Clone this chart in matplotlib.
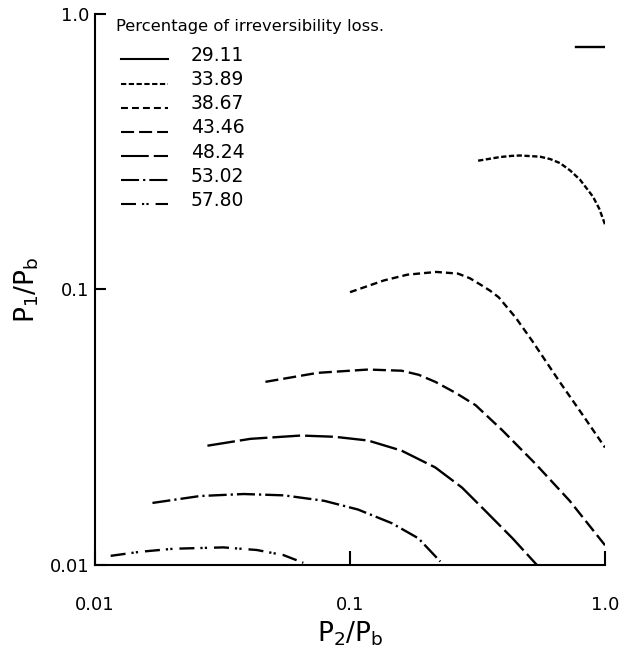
import matplotlib

matplotlib.use("Agg")

import matplotlib.pyplot as plt

plt.rcParams["lines.scale_dashes"] = False

# Contours of irreversibility loss (log-log axes).
loss_labels = ["29.11", "33.89", "38.67", "43.46", "48.24", "53.02", "57.80"]

x_2911 = [0.77, 1.0]
y_2911 = [0.755, 0.755]

x_3389 = [0.318, 0.387, 0.43, 0.464, 0.556, 0.61, 0.667, 0.73, 0.798, 0.897, 0.95, 1.0]
y_3389 = [0.293, 0.302, 0.305, 0.306, 0.303, 0.297, 0.287, 0.270, 0.250, 0.217, 0.196, 0.172]

x_3867 = [0.100, 0.136, 0.168, 0.218, 0.265, 0.295, 0.329, 0.355, 0.383, 0.446, 0.519,
          0.663, 0.820, 1.0]
y_3867 = [0.0977, 0.1078, 0.1131, 0.1157, 0.1141, 0.1098, 0.1033, 0.0988, 0.0936, 0.0791,
          0.0649, 0.0463, 0.0349, 0.0267]

x_4346 = [0.0466, 0.0746, 0.1177, 0.1594, 0.186, 0.216, 0.26, 0.311, 0.396, 0.536, 0.727, 1.0]
y_4346 = [0.0462, 0.0498, 0.0512, 0.0507, 0.0490, 0.0462, 0.0421, 0.0380, 0.0308, 0.0232,
          0.0171, 0.0118]

x_4824 = [0.0276, 0.0407, 0.0641, 0.0869, 0.1177, 0.1594, 0.216, 0.275, 0.340, 0.434, 0.541]
y_4824 = [0.0271, 0.0287, 0.0295, 0.0292, 0.0283, 0.0260, 0.0226, 0.0191, 0.0157,
          0.0125, 0.0100]

x_5302 = [0.0168, 0.0258, 0.0383, 0.0551, 0.0793, 0.1075, 0.1455, 0.1855, 0.226]
y_5302 = [0.0168, 0.0178, 0.0181, 0.0179, 0.0171, 0.0159, 0.0142, 0.0125, 0.0103]

x_5780 = [0.01152, 0.0150, 0.0203, 0.0319, 0.0431, 0.0548, 0.0656]
y_5780 = [0.0108, 0.01117, 0.01146, 0.01159, 0.01134, 0.01087, 0.01019]

# Dash patterns in points (not scaled by line width).
styles = [
    "-",
    (0, (3.8, 1.8)),
    (0, (5, 2.9)),
    (0, (9.4, 3.6)),
    (0, (20, 3.6)),
    (0, (13, 2.9, 1.6, 2.9)),
    (0, (10.8, 4.3, 1.6, 1.6, 1.6, 5)),
]

series = [
    (x_2911, y_2911),
    (x_3389, y_3389),
    (x_3867, y_3867),
    (x_4346, y_4346),
    (x_4824, y_4824),
    (x_5302, y_5302),
    (x_5780, y_5780),
]

fig = plt.figure(figsize=(6.25, 6.54), dpi=100)
ax = fig.add_axes([0.152, 0.136, 0.816, 0.843])

for (xs, ys), ls in zip(series, styles):
    ax.plot(xs, ys, color="black", linewidth=1.7, linestyle=ls)

ax.set_xscale("log")
ax.set_yscale("log")
ax.set_xlim(0.01, 1.0)
ax.set_ylim(0.01, 1.0)

ax.spines["top"].set_visible(False)
ax.spines["right"].set_visible(False)
for side in ("left", "bottom"):
    ax.spines[side].set_linewidth(1.5)

ax.minorticks_off()
ax.set_xticks([0.01, 0.1, 1.0], ["0.01", "0.1", "1.0"])
ax.set_yticks([0.01, 0.1, 1.0], ["0.01", "0.1", "1.0"])
ax.tick_params(axis="x", direction="in", length=10, width=1.5, pad=22, labelsize=13)
ax.tick_params(axis="y", direction="in", length=8, width=1.5, pad=4, labelsize=13)

ax.set_xlabel(r"$\mathsf{P_2/P_b}$", fontsize=19, labelpad=4)
ax.set_ylabel(r"$\mathsf{P_1/P_b}$", fontsize=19, labelpad=6)

# Legend drawn by hand, as in the original figure.
ax.text(0.042, 0.977, "Percentage of irreversibility loss.", transform=ax.transAxes,
        fontsize=11.8, va="center", ha="left")
for i, (lab, ls) in enumerate(zip(loss_labels, styles)):
    yy = 0.924 - i * 0.0437
    ax.plot([0.05, 0.143], [yy - 0.007, yy - 0.007], transform=ax.transAxes,
            color="black", linewidth=1.5, linestyle=ls)
    ax.text(0.188, yy, lab, transform=ax.transAxes, fontsize=13.5, va="center", ha="left")

fig.savefig("out.png", dpi=100)
